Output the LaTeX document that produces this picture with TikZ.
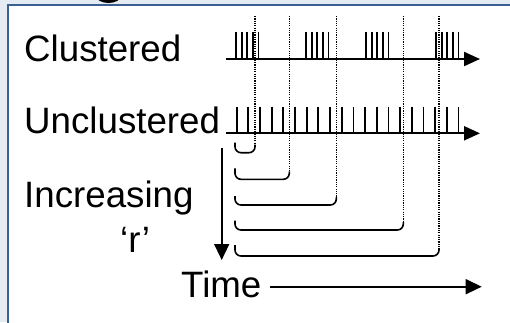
\documentclass[tikz,border=0pt]{standalone}
\usepackage{fontspec}
\setmainfont{Liberation Sans}
\usetikzlibrary{arrows.meta}
\definecolor{bgcol}{HTML}{E5EBF2}
\definecolor{framecol}{HTML}{3B5E93}
\begin{document}
\begin{tikzpicture}[x=1pt,y=-1pt,
  lbl/.style={anchor=base west, inner sep=0pt, font=\fontsize{36.7}{44}\selectfont},
  axisline/.style={line width=2.2pt, -{Triangle[length=16pt,width=14pt]}},
  spike/.style={line width=1.8pt},
  guide/.style={line width=1.3pt, dash pattern=on 1.2pt off 1.1pt},
  bracket/.style={line width=1.6pt, rounded corners=6pt},
  longarrow/.style={line width=1.6pt, -{Triangle[length=16pt,width=15pt]}}]
\useasboundingbox (0,0) rectangle (510,322);
\clip (0,0) rectangle (510,322);
% background and frame
\fill[bgcol] (0,0) rectangle (510,322);
\fill[white] (8,5) rectangle (520,330);
\draw[framecol, line width=1.6pt] (520,5) -- (8,5) -- (8,330);
% cut-off title glyph
\fill (108.5,-5) ellipse [x radius=13, y radius=8];
% labels
\node[lbl] (clus) at (24,61.5) {Clustered};
\node[lbl] (unclus) at (24,133.3) {Unclustered};
\node[lbl] (incr) at (24,207) {Increasing};
\node[lbl] (rr) at (120,252) {‘r’};
\node[lbl] (time) at (181,297.7) {Time};
% axes
\coordinate (ca) at (226,59);
\coordinate (cb) at (480,59);
\coordinate (ua) at (226,133.3);
\coordinate (ub) at (480,133.3);
\draw[axisline] (ca) -- (cb);
\draw[axisline] (ua) -- (ub);
% clustered spikes
\foreach \g in {236,306,366,436}{
  \foreach \k in {0,...,4}{
    \draw[spike] (\g+5.6*\k,32) -- (\g+5.6*\k,59);
  }
}
% unclustered spikes
\foreach \k in {0,...,19}{
  \draw[spike] (236.7+11.67*\k,106.7) -- (236.7+11.67*\k,133.3);
}
% brackets and dotted guides
\foreach \xr/\yt/\yb in {255/142.7/152.7, 289.3/168.3/179.3, 336.3/196/205, 403.3/220.7/230, 439/245/256}{
  \draw[bracket] (235,\yt) -- (235,\yb) -- (\xr,\yb) -- (\xr,\yb-8);
  \draw[guide] (\xr,16) -- (\xr,\yb-7);
}
% increasing r arrow
\coordinate (va) at (221.7,148);
\coordinate (vb) at (221.7,260);
\draw[longarrow] (va) -- (vb);
% time arrow
\coordinate (tb) at (481.7,286.7);
\draw[longarrow] (time.east |- tb) ++(8,0) coordinate (ta) (ta) -- (tb);
\end{tikzpicture}
\end{document}
